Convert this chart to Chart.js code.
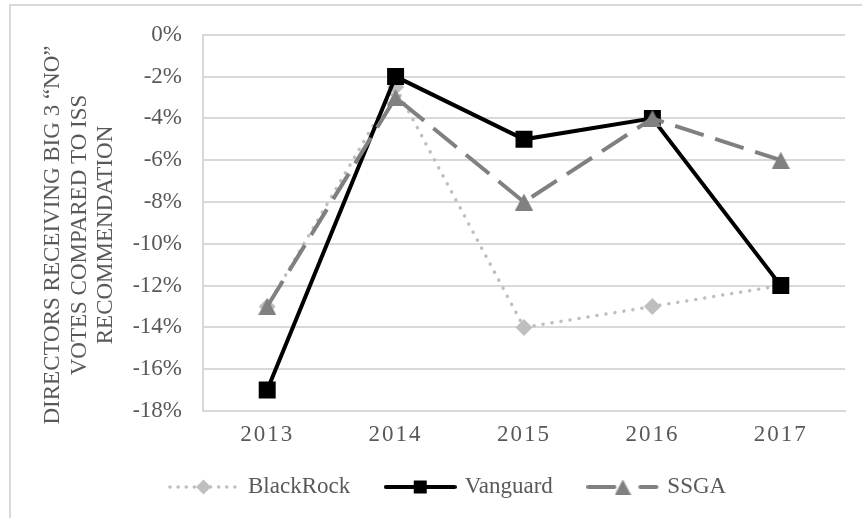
<!DOCTYPE html>
<html>
<head>
<meta charset="utf-8">
<script src="https://cdn.jsdelivr.net/npm/chart.js@4.4.1/dist/chart.umd.min.js"></script>
<style>
    html, body { margin: 0; padding: 0; background: #fff; overflow: hidden; }
    #wrap { position: relative; width: 862px; height: 518px; overflow: hidden; }
    #frame {
        position: absolute; left: 9px; top: 4px; width: 900px; height: 600px;
        border-left: 2px solid #d9d9d9; border-top: 2px solid #d9d9d9;
    }
    #chart { position: absolute; left: 0; top: 0; }
</style>
</head>
<body>
<div id="wrap">
    <div id="frame"></div>
    <canvas id="chart" width="862" height="518"></canvas>
</div>
<script>
const years = ['2013', '2014', '2015', '2016', '2017'];
const blackRock = [-13, -2.5, -14, -13, -12];
const vanguard = [-17, -2, -5, -4, -12];
const ssga = [-13, -3, -8, -4, -6];
const seriesNames = ['BlackRock', 'Vanguard', 'SSGA'];
const yTitle = ['DIRECTORS RECEIVING BIG 3 \u201CNO\u201D', 'VOTES COMPARED TO ISS', 'RECOMMENDATION'];

const FONT = '"Liberation Serif", "Times New Roman", serif';
const TEXT = '#595959';
const GRID = '#d9d9d9';
const C_BR = '#bfbfbf', C_VG = '#000000', C_SS = '#808080';

Chart.defaults.font.family = FONT;
Chart.defaults.font.size = 23;
Chart.defaults.color = TEXT;

// excel-like triangle: box centred on the point
function triangle(w, h, color) {
    const c = document.createElement('canvas');
    c.width = w; c.height = h;
    const g = c.getContext('2d');
    g.fillStyle = color;
    g.beginPath();
    g.moveTo(w / 2, 0);
    g.lineTo(w, h);
    g.lineTo(0, h);
    g.closePath();
    g.fill();
    return c;
}

function legendIcon(kind) {
    const c = document.createElement('canvas');
    c.width = 73; c.height = 22;
    const g = c.getContext('2d');
    const y = 11;
    g.lineCap = 'round';
    if (kind === 0) {
        g.strokeStyle = C_BR; g.lineWidth = 3.5;
        g.setLineDash([0.1, 8]);
        g.beginPath(); g.moveTo(3, y); g.lineTo(71, y); g.stroke();
        g.setLineDash([]);
        g.fillStyle = C_BR;
        Chart.helpers.drawPoint(g, { pointStyle: 'rectRot', radius: 7.5, borderWidth: 0 }, 36.5, y);
    } else if (kind === 1) {
        g.strokeStyle = C_VG; g.lineWidth = 4;
        g.beginPath(); g.moveTo(2, y); g.lineTo(71, y); g.stroke();
        g.fillStyle = C_VG;
        Chart.helpers.drawPoint(g, { pointStyle: 'rect', radius: 9.2, borderWidth: 0 }, 36.5, y);
    } else {
        g.strokeStyle = C_SS; g.lineWidth = 4;
        g.beginPath(); g.moveTo(2, y); g.lineTo(28, y); g.stroke();
        g.beginPath(); g.moveTo(54, y); g.lineTo(70, y); g.stroke();
        g.drawImage(triangle(16, 15, C_SS), 28.5, y - 7.5);
    }
    return c;
}

const icons = [0, 1, 2].map(legendIcon);

// x labels: letter spaced, and not clipped to the (short) axis box
const spacedLabels = {
    id: 'spacedLabels',
    beforeDraw(chart) {
        const sc = chart.scales.x;
        if (sc._spaced) return;
        const orig = sc.drawLabels;
        sc._computeLabelArea = () => undefined;
        sc.drawLabels = function (area) {
            this.ctx.save();
            this.ctx.letterSpacing = '2px';
            orig.call(this, area);
            this.ctx.restore();
        };
        sc._spaced = true;
    }
};

const yTitlePlugin = {
    id: 'yTitle',
    afterDraw(chart) {
        const ctx = chart.ctx;
        ctx.save();
        ctx.translate(53, 235);
        ctx.rotate(-Math.PI / 2);
        ctx.font = '23px ' + FONT;
        ctx.fillStyle = TEXT;
        ctx.textAlign = 'center';
        ctx.textBaseline = 'middle';
        yTitle.forEach((line, i) => ctx.fillText(line, 0, i * 26.5));
        ctx.restore();
    }
};

new Chart(document.getElementById('chart'), {
    type: 'line',
    data: {
        labels: years,
        datasets: [
            {
                label: seriesNames[0],
                data: blackRock,
                borderColor: C_BR,
                backgroundColor: C_BR,
                borderWidth: 3.5,
                borderDash: [0.1, 9],
                borderCapStyle: 'round',
                pointStyle: 'rectRot',
                pointRadius: 8.5,
                pointBorderWidth: 0,
                order: 3
            },
            {
                label: seriesNames[1],
                data: vanguard,
                borderColor: C_VG,
                backgroundColor: C_VG,
                borderWidth: 4,
                pointStyle: 'rect',
                pointRadius: 12,
                pointBorderWidth: 0,
                order: 2
            },
            {
                label: seriesNames[2],
                data: ssga,
                borderColor: C_SS,
                backgroundColor: C_SS,
                borderWidth: 4,
                borderDash: [30, 12],
                pointStyle: triangle(18, 17, C_SS),
                pointRadius: 9,
                pointBorderWidth: 0,
                order: 1
            }
        ]
    },
    options: {
        responsive: false,
        animation: false,
        layout: { padding: { top: 33, right: 17, bottom: 9.5, left: 133.5 } },
        plugins: {
            tooltip: { enabled: false },
            legend: {
                position: 'bottom',
                align: 'start',
                labels: {
                    usePointStyle: true,
                    pointStyleWidth: 66,
                    padding: 37,
                    color: TEXT,
                    font: { size: 23 },
                    generateLabels: () => seriesNames.map((name, i) => ({
                        text: name,
                        pointStyle: icons[i],
                        fontColor: TEXT,
                        fillStyle: 'transparent',
                        strokeStyle: 'transparent',
                        lineWidth: 0,
                        hidden: false,
                        datasetIndex: i
                    }))
                }
            }
        },
        scales: {
            x: {
                offset: true,
                grid: { display: false, drawTicks: false },
                border: { display: true, color: GRID, width: 2 },
                ticks: { padding: 10, color: TEXT, autoSkip: false, maxRotation: 0 },
                afterFit: s => { s.height = 27.5; }
            },
            y: {
                min: -18,
                max: 0,
                grid: { color: GRID, lineWidth: 2, drawTicks: false },
                border: { display: true, color: GRID, width: 2 },
                ticks: { stepSize: 2, padding: 21, color: TEXT, callback: v => v + '%' },
                afterFit: s => { s.width = 69.5; }
            }
        }
    },
    plugins: [spacedLabels, yTitlePlugin]
});
</script>
</body>
</html>
